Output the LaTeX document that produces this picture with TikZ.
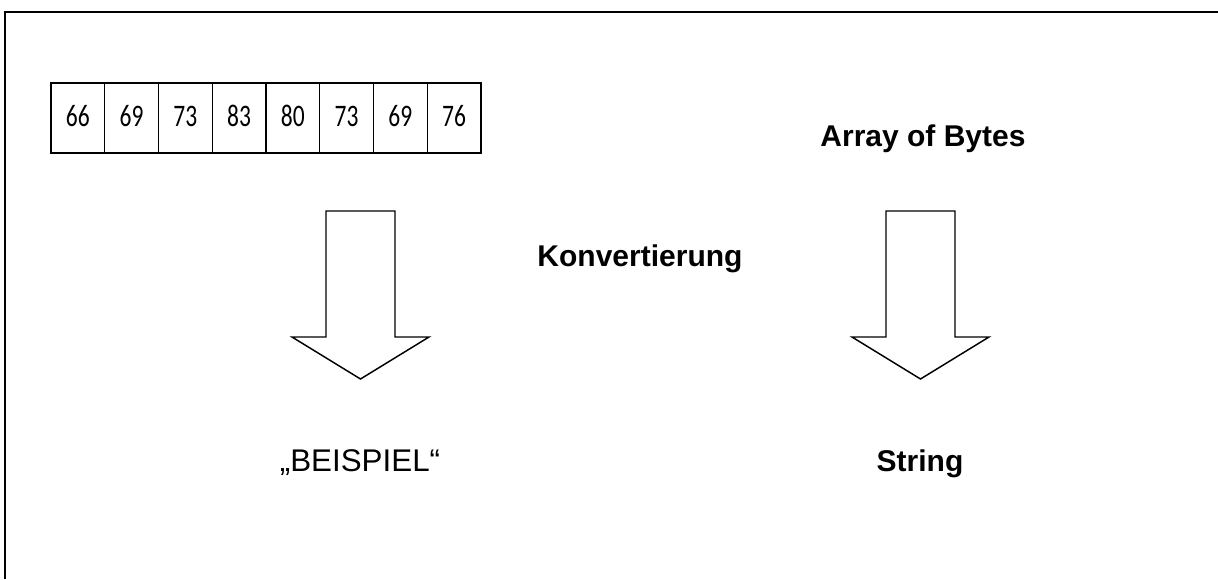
\documentclass[tikz,border=0pt]{standalone}
\usepackage{fontspec}
\setmainfont{Liberation Sans}
\newfontfamily\cellfont{Carlito}
\usepackage{tikz}
\usetikzlibrary{positioning}

% block arrow pointing down, origin at the middle of its top edge
\tikzset{
  pics/bigarrow/.style={code={
    \draw[arrowline] (-34.5,0) -- (34.5,0) -- (34.5,126) -- (68.5,126)
      -- (0,168) -- (-68.5,126) -- (-34.5,126) -- cycle;
  }},
}

\begin{document}
\begin{tikzpicture}[x=0.75pt, y=-0.75pt,
    frame/.style={line width=1.5pt},
    arrowline/.style={line width=1.1pt, line join=miter},
    cell/.style={draw, line width=1.1pt, minimum width=40.3pt,
      minimum height=52.5pt, inner sep=0pt, outer sep=0pt,
      font=\cellfont\fontsize{23.5}{28}\selectfont},
    caption/.style={anchor=base, inner sep=0pt,
      font=\bfseries\fontsize{22.5}{27}\selectfont},
    plain/.style={anchor=base, inner sep=0pt,
      font=\fontsize{23.5}{28}\selectfont}]
  \useasboundingbox (0,0) rectangle (1218,579);

  % page frame
  \draw[frame] (5,579) -- (5,12) -- (1218,12);

  % the byte array
  \foreach \v [count=\i] in {66,69,73,83,80,73,69,76}
    \node[cell] (b\i) at ({51+53.75*(\i-0.5)},118)
      {\raisebox{3pt}{\scalebox{0.75}[1]{\v}}};

  \node[caption] (bytes) at (923,146) {Array of Bytes};
  \node[caption] (conv) at (640,266) {Konvertierung};

  \pic at (360.5,211) {bigarrow};
  \pic at (920.5,211) {bigarrow};

  \node[plain] (example) at (360,471) {„BEISPIEL“};
  \node[caption] (string) at (920,471) {String};
\end{tikzpicture}
\end{document}
